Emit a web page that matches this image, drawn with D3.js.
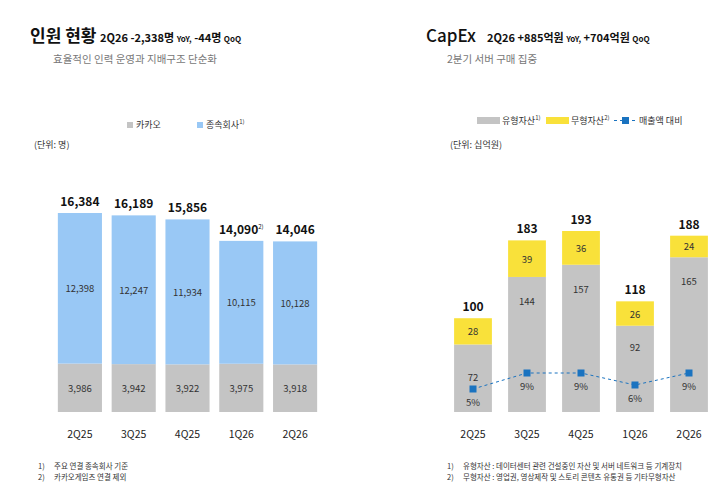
<!DOCTYPE html><html><head><meta charset="utf-8"><script src="https://cdn.jsdelivr.net/npm/d3@7"></script>
<style>body{margin:0;background:#fff}text{font-family:"Noto Sans CJK KR","Noto Sans",sans-serif}</style></head><body><svg id="c" width="720" height="490"></svg>
<script>
const quarters=["2Q25","3Q25","4Q25","1Q26","2Q26"];
const kakao=[3986,3942,3922,3975,3918];
const subs=[12398,12247,11934,10115,10128];
const hcTotals=["16,384","16,189","15,856","14,090","14,046"];
const tangible=[72,144,157,92,165];
const intangible=[28,39,36,26,24];
const capTotals=[100,183,193,118,188];
const ratio=[5,9,9,6,9];
const svg=d3.select("#c");
const base=412;
function txt(x,y,s,o={}){return svg.append("text").attr("x",x).attr("y",y).attr("font-size",o.fs||10).attr("fill",o.c||"#222").attr("font-weight",o.w||400).attr("text-anchor",o.a||"start").text(s);}
// headers
txt(30,42,"인원 현황",{fs:17,w:700,c:"#111"});
txt(100,42,"",{fs:11,w:700,c:"#111"}).html('2Q26 -2,338명 <tspan font-size="8">YoY,</tspan> -44명 <tspan font-size="8">QoQ</tspan>');
txt(53,63,"효율적인 인력 운영과 지배구조 단순화",{fs:10.5,c:"#777"});
txt(426,42,"CapEx",{fs:17,w:500,c:"#111"});
txt(487,42,"",{fs:11,w:700,c:"#111"}).html('2Q26 +885억원 <tspan font-size="8">YoY,</tspan> +704억원 <tspan font-size="8">QoQ</tspan>');
txt(447,63,"2분기 서버 구매 집중",{fs:10.5,c:"#777"});
// legends
svg.append("rect").attr("x",127).attr("y",122).attr("width",6).attr("height",6).attr("fill","#c4c4c4");
txt(136,128,"카카오",{fs:9,c:"#333"});
svg.append("rect").attr("x",197).attr("y",122).attr("width",6).attr("height",6).attr("fill","#99c8f5");
txt(206,128,"",{fs:9,c:"#333"}).html('종속회사<tspan font-size="6" dy="-4">1)</tspan>');
txt(34,148,"(단위: 명)",{fs:9,c:"#333"});
svg.append("rect").attr("x",477).attr("y",117).attr("width",23).attr("height",7).attr("fill","#c4c4c4");
txt(502,124,"",{fs:9,c:"#333"}).html('유형자산<tspan font-size="6" dy="-4">1)</tspan>');
svg.append("rect").attr("x",546).attr("y",117).attr("width",23).attr("height",7).attr("fill","#f9e13a");
txt(571,124,"",{fs:9,c:"#333"}).html('무형자산<tspan font-size="6" dy="-4">2)</tspan>');
svg.append("line").attr("x1",614).attr("x2",636).attr("y1",120.5).attr("y2",120.5).attr("stroke","#1a73c0").attr("stroke-dasharray","3,3");
svg.append("rect").attr("x",622).attr("y",117).attr("width",7).attr("height",7).attr("fill","#1a73c0");
txt(639,124,"매출액 대비",{fs:9,c:"#333"});
txt(450,148,"(단위: 십억원)",{fs:9,c:"#333"});
// left chart
const x1=d3.scaleBand().domain(quarters).range([53,322]).paddingInner(0.18).paddingOuter(0.09);
const y1=d3.scaleLinear().domain([0,16384]).range([base,213]);
quarters.forEach((q,i)=>{
  const x=x1(q),w=x1.bandwidth(),cx=x+w/2;
  svg.append("rect").attr("x",x).attr("y",y1(kakao[i])).attr("width",w).attr("height",base-y1(kakao[i])).attr("fill","#c4c4c4");
  svg.append("rect").attr("x",x).attr("y",y1(kakao[i]+subs[i])).attr("width",w).attr("height",y1(kakao[i])-y1(kakao[i]+subs[i])).attr("fill","#99c8f5");
  txt(cx,(y1(kakao[i])+base)/2+4,d3.format(",")(kakao[i]),{fs:9.5,a:"middle",c:"#333"});
  txt(cx,(y1(kakao[i])+y1(kakao[i]+subs[i]))/2+4,d3.format(",")(subs[i]),{fs:9.5,a:"middle",c:"#333"});
  const t=txt(cx,y1(kakao[i]+subs[i])-7,hcTotals[i],{fs:12,w:700,a:"middle",c:"#111"});
  if(i==3)t.html(hcTotals[i]+'<tspan font-size="6" dy="-5" font-weight="400">2)</tspan>');
  txt(cx,438,q,{fs:10.5,a:"middle",c:"#222"});
});
// right chart
const x2=d3.scaleBand().domain(quarters).range([446,716]).paddingInner(0.3).paddingOuter(0.15);
const y2=d3.scaleLinear().domain([0,193]).range([base,231]);
const yr=d3.scaleLinear().domain([0,9]).range([409,373]);
quarters.forEach((q,i)=>{
  const x=x2(q),w=x2.bandwidth(),cx=x+w/2;
  svg.append("rect").attr("x",x).attr("y",y2(tangible[i])).attr("width",w).attr("height",base-y2(tangible[i])).attr("fill","#c4c4c4");
  svg.append("rect").attr("x",x).attr("y",y2(capTotals[i])).attr("width",w).attr("height",y2(tangible[i])-y2(capTotals[i])).attr("fill","#f9e13a");
  txt(cx,(y2(tangible[i])+y2(capTotals[i]))/2+4,intangible[i],{fs:9.5,a:"middle",c:"#333"});
  txt(cx,i==0?381:(i==3?y2(tangible[i])+25:y2(tangible[i])+28),tangible[i],{fs:9.5,a:"middle",c:"#333"});
  txt(cx,y2(capTotals[i])-7,capTotals[i],{fs:12,w:700,a:"middle",c:"#111"});
  txt(cx,438,q,{fs:10.5,a:"middle",c:"#222"});
});
const line=d3.line().x((d,i)=>x2(quarters[i])+x2.bandwidth()/2).y(d=>yr(d));
svg.append("path").attr("d",line(ratio)).attr("fill","none").attr("stroke","#1a73c0").attr("stroke-width",1).attr("stroke-dasharray","3,3");
ratio.forEach((r,i)=>{const cx=x2(quarters[i])+x2.bandwidth()/2;
  svg.append("rect").attr("x",cx-3.5).attr("y",yr(r)-3.5).attr("width",7).attr("height",7).attr("fill","#1a73c0");
  txt(cx,yr(r)+17,r+"%",{fs:9.5,a:"middle",c:"#333"});});
// footnotes
[[38,469,"1)","주요 연결 종속회사 기준"],[38,480,"2)","카카오게임즈 연결 제외"],
 [447,469,"1)","유형자산 : 데이터센터 관련 건설중인 자산 및 서버 네트워크 등 기계장치"],
 [447,480,"2)","무형자산 : 영업권, 영상제작 및 스토리 콘텐츠 유통권 등 기타무형자산"]].forEach(f=>{
  txt(f[0],f[1],f[2],{fs:7.5,c:"#333"});txt(f[0]+16,f[1],f[3],{fs:7.5,c:"#333"});});
</script></body></html>
